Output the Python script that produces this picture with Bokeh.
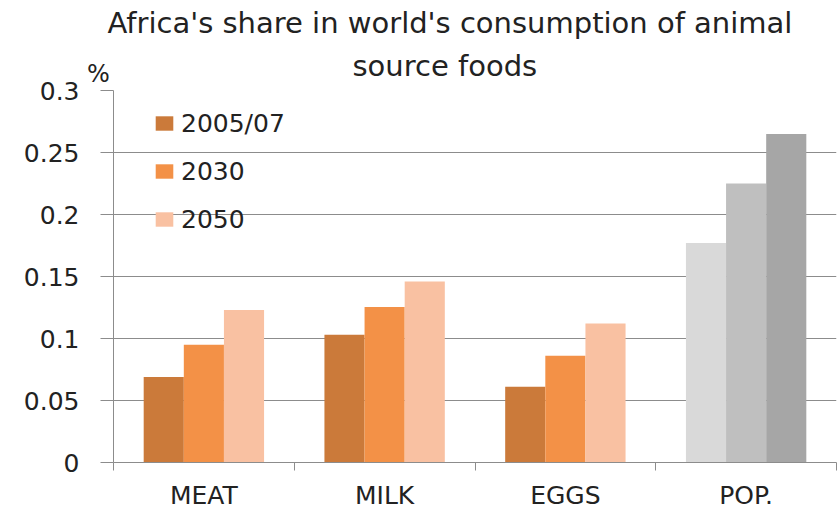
from bokeh.plotting import figure
from bokeh.models import ColumnDataSource, FixedTicker, NumeralTickFormatter, Legend, LegendItem, Title
from bokeh.embed import file_html
from bokeh.resources import INLINE

categories = ["MEAT", "MILK", "EGGS", "POP."]
series = ["2005/07", "2030", "2050"]
values_2005 = [0.069, 0.103, 0.061, 0.177]
values_2030 = [0.095, 0.1255, 0.086, 0.225]
values_2050 = [0.123, 0.146, 0.112, 0.265]
orange_colors = ["#CB7A3A", "#F39147", "#F9C1A2"]
gray_colors = ["#D9D9D9", "#BFBFBF", "#A6A6A6"]
y_ticks = [0, 0.05, 0.1, 0.15, 0.2, 0.25, 0.3]
title_lines = ["Africa's share in world's consumption of animal", "source foods"]
y_unit = "%"

FONT = "DejaVu Sans"
TXT = "#222222"
all_values = [values_2005, values_2030, values_2050]
bar_w = 0.222
offsets = [-bar_w, 0.0, bar_w]

p = figure(width=838, height=512, output_backend="svg", toolbar_location=None,
           x_range=(0, len(categories)), y_range=(0, 0.3),
           min_border_left=113, min_border_right=2, min_border_top=90, min_border_bottom=49)

# two title lines (later added = further from the frame)
p.add_layout(Title(text=title_lines[1], align="left", offset=239, text_font=FONT,
                   text_font_size="29px", text_font_style="normal",
                   text_color=TXT, standoff=15), "above")
p.add_layout(Title(text=title_lines[0], align="left", offset=-6, text_font=FONT,
                   text_font_size="29px", text_font_style="normal",
                   text_color=TXT, standoff=0), "above")

legend_items = []
for s, vals, off, oc, gc in zip(series, all_values, offsets, orange_colors, gray_colors):
    food_idx = [i for i, c in enumerate(categories) if c != "POP."]
    pop_idx = [i for i, c in enumerate(categories) if c == "POP."]
    src_f = ColumnDataSource(dict(x=[i + 0.5 + off for i in food_idx], top=[vals[i] for i in food_idx]))
    src_p = ColumnDataSource(dict(x=[i + 0.5 + off for i in pop_idx], top=[vals[i] for i in pop_idx]))
    r = p.vbar(x="x", top="top", width=bar_w, bottom=0, source=src_f, fill_color=oc, line_color=None)
    p.vbar(x="x", top="top", width=bar_w, bottom=0, source=src_p, fill_color=gc, line_color=None)
    legend_items.append(LegendItem(label=s, renderers=[r]))

legend = Legend(items=legend_items, location=(40, 228), border_line_alpha=0,
                background_fill_alpha=0, padding=0, margin=0,
                glyph_width=22, glyph_height=18, label_height=30, spacing=18,
                label_standoff=6, label_text_font=FONT, label_text_font_size="25px",
                label_text_color=TXT)
p.add_layout(legend, "center")

# grid
p.xgrid.visible = False
p.ygrid.grid_line_color = "#8C8C8C"
p.ygrid.grid_line_width = 1
p.ygrid.ticker = FixedTicker(ticks=y_ticks)
p.outline_line_color = None

# y axis
p.yaxis.ticker = FixedTicker(ticks=y_ticks)
p.yaxis.formatter = NumeralTickFormatter(format="0.[00]")
p.yaxis.axis_line_color = "#8C8C8C"
p.yaxis.major_tick_line_color = "#8C8C8C"
p.yaxis.major_tick_out = 13
p.yaxis.major_tick_in = 0
p.yaxis.minor_tick_line_color = None
p.yaxis.minor_tick_out = 0
p.yaxis.major_label_standoff = 21
p.yaxis.major_label_text_font = FONT
p.yaxis.major_label_text_font_size = "25px"
p.yaxis.major_label_text_color = TXT
# unit sign sits above the top end of the axis (blank second line lifts it)
p.yaxis.axis_label = y_unit + "\n\u00a0"
p.yaxis.axis_label_orientation = "horizontal"
p.yaxis.axis_label_align = "end"
p.yaxis.axis_label_standoff = -89
p.yaxis.axis_label_text_font = FONT
p.yaxis.axis_label_text_font_size = "24px"
p.yaxis.axis_label_text_font_style = "normal"
p.yaxis.axis_label_text_color = TXT

# x axis
p.xaxis.ticker = FixedTicker(ticks=[i + 0.5 for i in range(len(categories))],
                             minor_ticks=list(range(len(categories) + 1)))
p.xaxis.major_label_overrides = {i + 0.5: c for i, c in enumerate(categories)}
p.xaxis.axis_line_color = "#8C8C8C"
p.xaxis.major_tick_line_color = None
p.xaxis.major_tick_out = 0
p.xaxis.major_tick_in = 0
p.xaxis.minor_tick_line_color = "#8C8C8C"
p.xaxis.minor_tick_out = 8
p.xaxis.minor_tick_in = 0
p.xaxis.major_label_standoff = 10
p.xaxis.major_label_text_font = FONT
p.xaxis.major_label_text_font_size = "25px"
p.xaxis.major_label_text_color = TXT

open("out.html", "w").write(file_html(p, INLINE))
